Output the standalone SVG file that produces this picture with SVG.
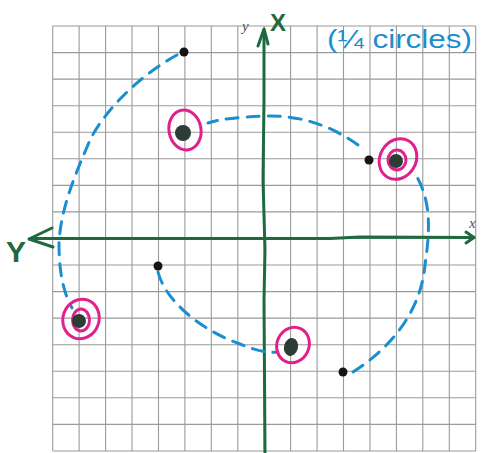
<svg xmlns="http://www.w3.org/2000/svg" width="482" height="453" viewBox="0 0 482 453">
<style>
.grid{stroke:#9a9a9a;stroke-width:1.1;fill:none}
.axis{stroke:#1d6a3e;stroke-width:3;fill:none;stroke-linecap:round;stroke-linejoin:round}
.arc{stroke:#1a8ed0;stroke-width:3;fill:none;stroke-dasharray:12 9;stroke-linecap:round}
.ring{stroke:#e2208c;stroke-width:3;fill:none}
.pt{fill:#2c3d36}
.blk{fill:#151515}
.hand{font-family:"Liberation Sans",Arial,sans-serif;font-weight:bold}
.note{font-family:"Liberation Sans",Arial,sans-serif;font-weight:normal;fill:#1a8ed0;font-size:26px}
.prn{font-family:"Liberation Serif","Times New Roman",serif;font-style:italic;fill:#555;font-size:15px}
</style>
<rect width="482" height="453" fill="#ffffff"/>
<g id="grid" class="grid">
<path d="M52.7 26V451 M79.1 26V451 M105.6 26V451 M132 26V451 M158.5 26V451 M184.9 26V451 M211.3 26V451 M237.8 26V451 M264.2 26V451 M290.6 26V451 M317.1 26V451 M343.5 26V451 M370 26V451 M396.4 26V451 M422.8 26V451 M449.3 26V451 M475.7 26V451"/>
<path d="M52.7 26H475.7 M52.7 52.6H475.7 M52.7 79.1H475.7 M52.7 105.7H475.7 M52.7 132.2H475.7 M52.7 158.8H475.7 M52.7 185.4H475.7 M52.7 211.9H475.7 M52.7 238.5H475.7 M52.7 265H475.7 M52.7 291.6H475.7 M52.7 318.1H475.7 M52.7 344.7H475.7 M52.7 371.3H475.7 M52.7 397.8H475.7 M52.7 424.4H475.7 M52.7 451H475.7"/>
</g>
<g id="axes">
<path class="axis" d="M265 453 L264 300 L265 250 L263 180 L264 100 L264 30"/>
<path class="axis" d="M258 46 L264 29 L268 44"/>
<path class="axis" d="M30 238.5 L330 238.5 L360 237 L474 237.5"/>
<path class="axis" d="M466 232 L474 237.5 L466 243"/>
<path class="axis" d="M52 228 L29 239 L53 247"/>
<text class="hand" x="270" y="31" font-size="24" fill="#1d6a3e">X</text>
<text class="hand" x="6" y="262" font-size="30" fill="#1d6a3e">Y</text>
<text class="prn" x="242" y="31">y</text>
<text class="prn" x="469" y="228">x</text>
<text class="note" x="327" y="48" textLength="145" lengthAdjust="spacingAndGlyphs">(¼ circles)</text>
</g>
<g id="connectors">
<path class="arc" d="M177 55 C140 75 105 110 90 140 C75 175 60 210 59 245 C59 270 63 292 72 308"/>
<path class="arc" d="M158 272 C165 300 200 330 240 344 C255 350 265 353 278 352"/>
<path class="arc" d="M353 372 C380 355 420 320 425 265 C430 230 432 200 414 172"/>
<path class="arc" d="M358 145 C330 125 300 115 265 116 C240 117 220 119 208 123"/>
</g>
<g id="p1"><circle class="blk" cx="184" cy="52" r="4.5"/></g>
<g id="p1r"><ellipse class="ring" cx="185" cy="130" rx="16" ry="20" transform="rotate(-10 185 130)"/><circle class="pt" cx="183" cy="133" r="8"/></g>
<g id="p2"><circle class="blk" cx="369" cy="160" r="4.5"/></g>
<g id="p2r"><ellipse class="ring" cx="398" cy="159" rx="18" ry="21" transform="rotate(30 398 159)"/><ellipse class="ring" cx="397" cy="160" rx="9" ry="10" stroke-width="2.2"/><circle class="pt" cx="396" cy="161" r="7"/></g>
<g id="p3"><circle class="blk" cx="158" cy="266" r="4.5"/></g>
<g id="p3r"><ellipse class="ring" cx="81" cy="319" rx="18" ry="20" transform="rotate(20 81 319)"/><ellipse class="ring" cx="81" cy="320" rx="8.5" ry="11" stroke-width="2.2"/><circle class="pt" cx="79" cy="321" r="7"/></g>
<g id="p4"><circle class="blk" cx="343" cy="372" r="4.5"/></g>
<g id="p4r"><ellipse class="ring" cx="293" cy="345" rx="16" ry="18" transform="rotate(25 293 345)"/><ellipse class="pt" cx="291" cy="347" rx="7" ry="9" transform="rotate(15 291 347)"/></g>
</svg>
